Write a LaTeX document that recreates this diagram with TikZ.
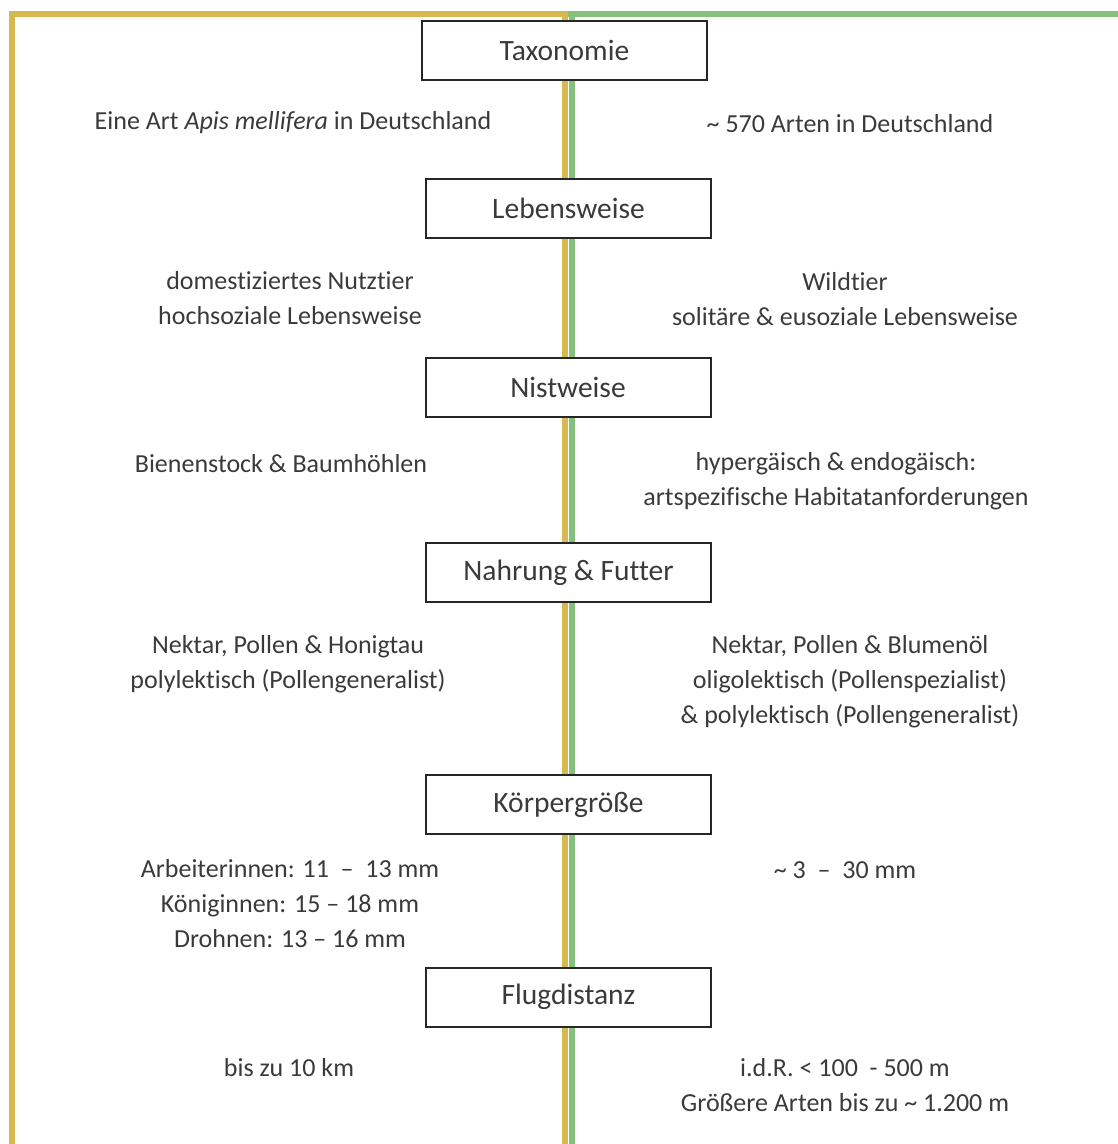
\documentclass[tikz,border=0pt]{standalone}
\usepackage{fontspec}
\setmainfont{Carlito}[Ligatures=NoCommon]
\definecolor{gold}{RGB}{214,186,80}
\definecolor{leaf}{RGB}{134,192,124}
\definecolor{txt}{RGB}{58,58,58}
\begin{document}
\begin{tikzpicture}[x=1pt,y=-1pt,
  cat/.style={draw=black!85, line width=2pt, fill=white, minimum width=285pt, minimum height=59pt, inner sep=0pt, font=\fontsize{29.5}{35}\selectfont, text=txt},
  info/.style={align=center, font=\fontsize{26}{35}\selectfont, text=txt, inner sep=0pt},
  goldline/.style={draw=gold, line width=6pt},
  leafline/.style={draw=leaf, line width=6pt}]
\useasboundingbox (0,0) rectangle (1118,1144);
% frame and centre lines
\coordinate (tl) at (9,13.5);
\coordinate (tm) at (568,13.5);
\coordinate (tr) at (1118,13.5);
\coordinate (bl) at (12,1144);
\draw[goldline] (12,10.5) -- (bl);
\draw[goldline] (tl) -- (tm);
\draw[leafline] (tm) -- (tr);
\draw[goldline] (564.5,10.5) -- (564.5,1144);
\draw[leafline] (571.5,10.5) -- (571.5,1144);
% category boxes
\node[cat] (tax) at (564.5,50.5) {Taxonomie};
\node[cat] (leb) at (568.5,208) {Lebensweise};
\node[cat] (nist) at (568,387) {Nistweise};
\node[cat] (nahr) at (568.5,572.5) {Nahrung \& Futter};
\node[cat] (kg) at (568.5,804.5) {Körpergröße};
\node[cat] (flug) at (568.5,997) {Flugdistanz};
% left column (honey bee)
\node[info] (taxL) at (293,123) {Eine Art \textit{Apis mellifera} in Deutschland};
\node[info] (lebL) at (290,298.5) {domestiziertes Nutztier\\hochsoziale Lebensweise};
\node[info] (nistL) at (281,464) {Bienenstock \& Baumhöhlen};
\node[info] (nahrL) at (288,664) {Nektar, Pollen \& Honigtau\\polylektisch (Pollengeneralist)};
\node[info] (kgL) at (290,903.5) {Arbeiterinnen: 11 \ – \ 13 mm\\Königinnen: 15 – 18 mm\\Drohnen: 13 – 16 mm};
\node[info] (flugL) at (289,1068) {bis zu 10 km};
% right column (wild bees)
\node[info] (taxR) at (850,124) {\textasciitilde\ 570 Arten in Deutschland};
\node[info] (lebR) at (845,299.5) {Wildtier\\solitäre \& eusoziale Lebensweise};
\node[info] (nistR) at (836,481) {hypergäisch \& endogäisch:\\artspezifische Habitatanforderungen};
\node[info] (nahrR) at (850,681.5) {Nektar, Pollen \& Blumenöl\\oligolektisch (Pollenspezialist)\\\& polylektisch (Pollengeneralist)};
\node[info] (kgR) at (845,870) {\textasciitilde\ 3 \ – \ 30 mm};
\node[info] (flugR) at (845,1085) {i.d.R. < 100 \ - 500 m\\Größere Arten bis zu \textasciitilde\ 1.200 m};
\end{tikzpicture}
\end{document}
